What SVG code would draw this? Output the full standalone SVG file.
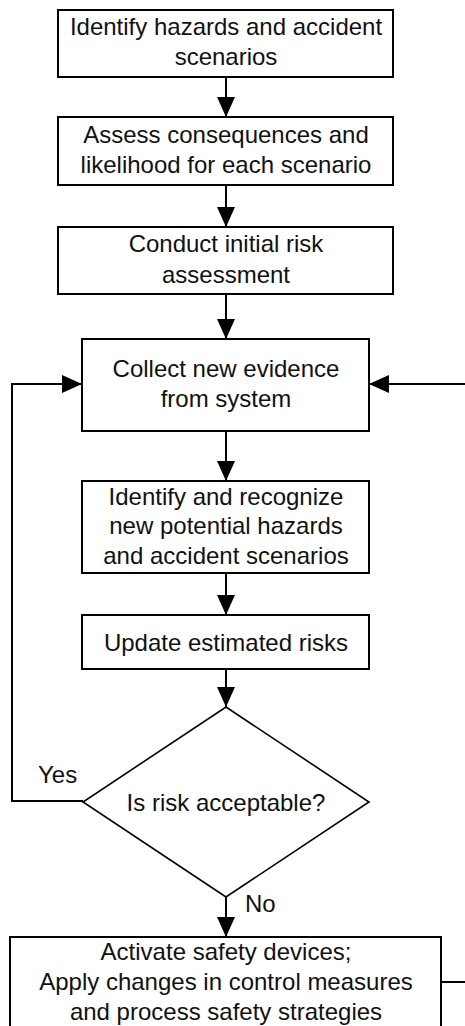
<svg xmlns="http://www.w3.org/2000/svg" width="465" height="1026" viewBox="0 0 465 1026">
  <style>
    .box { fill: #fff; stroke: #000; stroke-width: 2; }
    .dia { fill: #fff; stroke: #000; stroke-width: 1.6; }
    .lbl { font-family: "Liberation Sans", Arial, sans-serif; font-size: 24px; fill: #111; text-anchor: middle; }
    .tag { font-family: "Liberation Sans", Arial, sans-serif; font-size: 24px; fill: #111; }
    .wire { fill: none; stroke: #000; stroke-width: 2; }
  </style>
  <defs>
    <marker id="arrow" markerUnits="userSpaceOnUse" markerWidth="20" markerHeight="18" viewBox="0 0 20 18" refX="20" refY="9" orient="auto">
      <path d="M0,0 L20,9 L0,18 Z" fill="#000"/>
    </marker>
  </defs>
  <rect width="465" height="1026" fill="#fff"/>

  <g id="connectors">
    <line class="wire" x1="226" y1="77" x2="226" y2="117" marker-end="url(#arrow)"/>
    <line class="wire" x1="226" y1="185" x2="226" y2="227" marker-end="url(#arrow)"/>
    <line class="wire" x1="226" y1="294" x2="226" y2="339" marker-end="url(#arrow)"/>
    <line class="wire" x1="226" y1="431" x2="226" y2="481" marker-end="url(#arrow)"/>
    <line class="wire" x1="226" y1="573" x2="226" y2="615" marker-end="url(#arrow)"/>
    <line class="wire" x1="226" y1="669" x2="226" y2="707" marker-end="url(#arrow)"/>
    <line class="wire" x1="226" y1="897" x2="226" y2="937" marker-end="url(#arrow)"/>
    <!-- Yes: back to evidence collection -->
    <path class="wire" d="M83,801 H12 V384 H82" marker-end="url(#arrow)"/>
    <!-- after mitigation: loop round the right side -->
    <path class="wire" d="M441,982 H475 V384 H369" marker-end="url(#arrow)"/>
  </g>

  <g id="identify-hazards">
    <rect class="box" x="58" y="10" width="335" height="67"/>
    <text class="lbl" x="226" y="35">Identify hazards and accident</text>
    <text class="lbl" x="226" y="65">scenarios</text>
  </g>
  <g id="assess-consequences">
    <rect class="box" x="58" y="117" width="335" height="68"/>
    <text class="lbl" x="226" y="143">Assess consequences and</text>
    <text class="lbl" x="226" y="173">likelihood for each scenario</text>
  </g>
  <g id="initial-assessment">
    <rect class="box" x="58" y="227" width="335" height="67"/>
    <text class="lbl" x="226" y="252">Conduct initial risk</text>
    <text class="lbl" x="226" y="283">assessment</text>
  </g>
  <g id="collect-evidence">
    <rect class="box" x="82" y="339" width="287" height="92"/>
    <text class="lbl" x="226" y="377">Collect new evidence</text>
    <text class="lbl" x="226" y="407">from system</text>
  </g>
  <g id="new-hazards">
    <rect class="box" x="82" y="481" width="287" height="92"/>
    <text class="lbl" x="226" y="505">Identify and recognize</text>
    <text class="lbl" x="226" y="534">new potential hazards</text>
    <text class="lbl" x="226" y="564">and accident scenarios</text>
  </g>
  <g id="update-risks">
    <rect class="box" x="82" y="615" width="287" height="54"/>
    <text class="lbl" x="226" y="651">Update estimated risks</text>
  </g>
  <g id="risk-decision">
    <polygon class="dia" points="226,707 369,802 226,897 83,802"/>
    <text class="lbl" x="226" y="811">Is risk acceptable?</text>
  </g>
  <text class="tag" x="38" y="783">Yes</text>
  <text class="tag" x="245" y="912">No</text>
  <g id="safety-actions">
    <rect class="box" x="10" y="937" width="431" height="100"/>
    <text class="lbl" x="226" y="960">Activate safety devices;</text>
    <text class="lbl" x="226" y="990">Apply changes in control measures</text>
    <text class="lbl" x="226" y="1020">and process safety strategies</text>
  </g>
</svg>
